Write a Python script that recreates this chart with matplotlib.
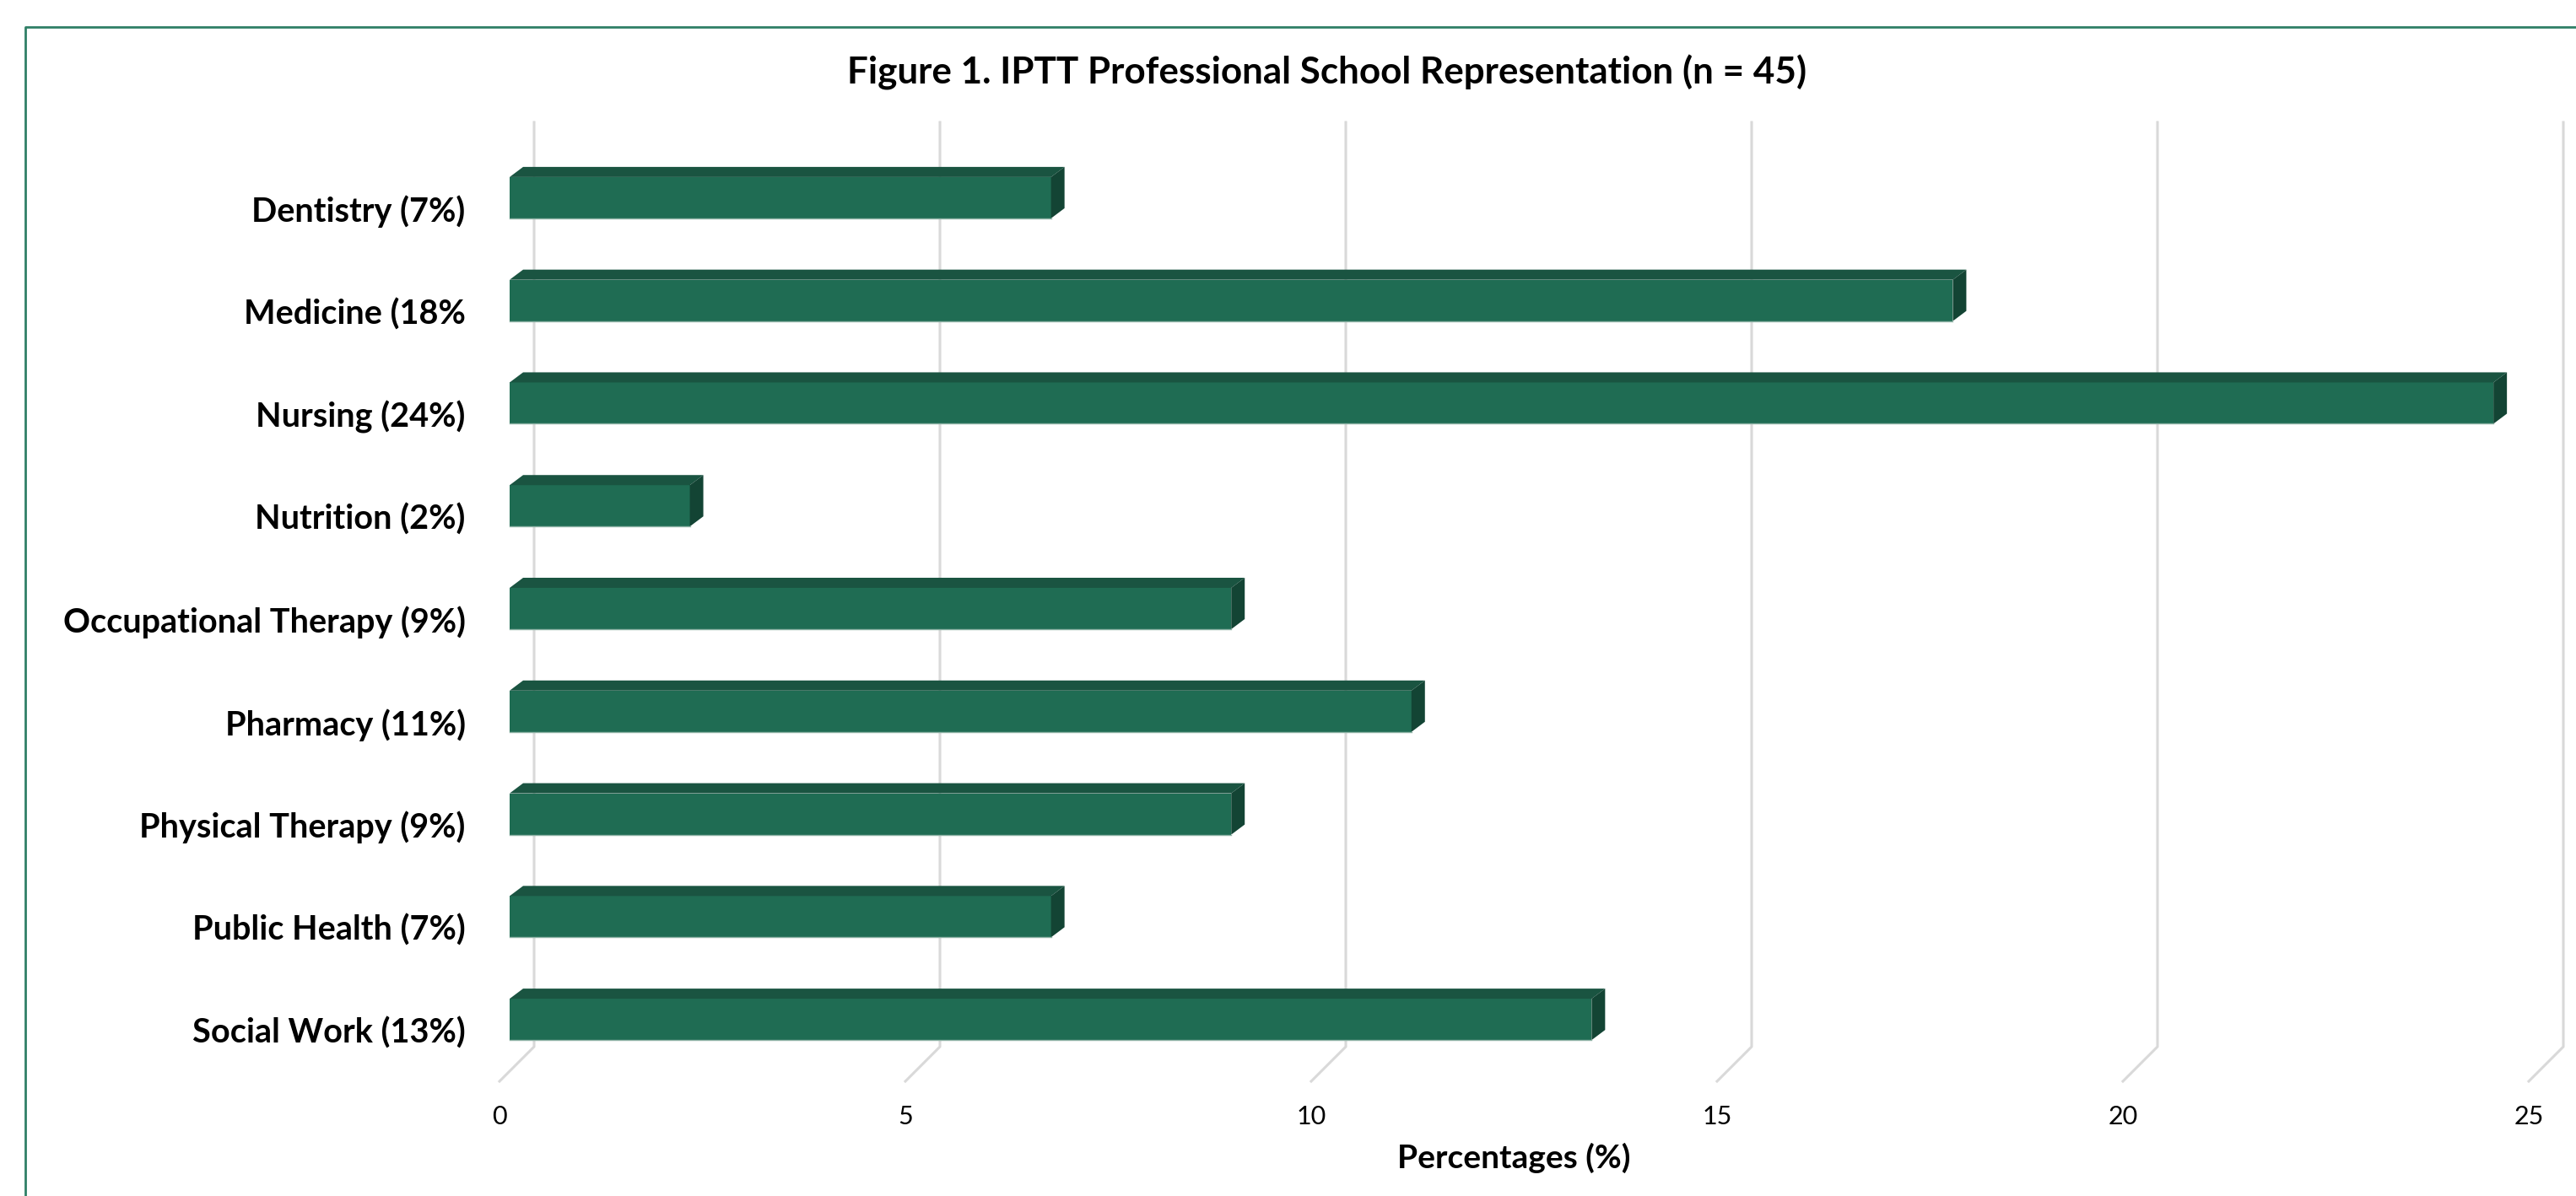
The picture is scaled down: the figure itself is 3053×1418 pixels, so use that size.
import matplotlib
matplotlib.use("Agg")
import matplotlib.pyplot as plt
from matplotlib.lines import Line2D
from matplotlib.patches import Polygon
from matplotlib.transforms import IdentityTransform

# data
schools = [
    "Dentistry (7%)",
    "Medicine (18%",
    "Nursing (24%)",
    "Nutrition (2%)",
    "Occupational Therapy (9%)",
    "Pharmacy (11%)",
    "Physical Therapy (9%)",
    "Public Health (7%)",
    "Social Work (13%)",
]
percentages = [6.67, 17.78, 24.44, 2.22, 8.89, 11.11, 8.89, 6.67, 13.33]
x_ticks = [0, 5, 10, 15, 20, 25]

W, H = 3053, 1418
FRONT = "#1f6c53"
TOP = "#1a5441"
SIDE = "#134434"
GRID = "#d9d9d9"
DEPTH = 41          # floor depth in px (back wall offset)
BAR_OFF = 12        # bar front face offset from front plane
BAR_DX, BAR_DY = 16, 12
BAR_H = 49

plt.rcParams["font.family"] = ["Lato", "DejaVu Sans"]

fig = plt.figure(figsize=(W / 100, H / 100), dpi=100)
ax = fig.add_axes([592 / W, (H - 1282) / H, 2405 / W, 1096 / H])
ax.set_xlim(0, 25)
ax.set_ylim(len(schools) - 0.5, -0.5)
for s in ax.spines.values():
    s.set_visible(False)
ax.set_xticks(x_ticks)
ax.set_xticklabels([str(t) for t in x_ticks], fontsize=22)
ax.set_yticks(range(len(schools)))
ax.set_yticklabels(schools, fontsize=28.5, fontweight="bold")
ax.tick_params(axis="x", length=0, pad=20)
ax.tick_params(axis="y", length=0, pad=29)
ax.set_xlabel("Percentages (%)", fontsize=28, fontweight="bold", labelpad=12)

ident = IdentityTransform()


def to_px(x, y):
    return ax.transData.transform((x, y))


# back wall gridlines with floor diagonals
for t in x_ticks:
    fbx, fby = to_px(t, len(schools) - 0.5)
    _, fty = to_px(t, -0.5)
    xs = [fbx + DEPTH, fbx + DEPTH, fbx]
    ys = [fty + DEPTH, fby + DEPTH, fby]
    ax.add_line(Line2D(xs, ys, transform=ident, color=GRID, lw=2.2,
                       clip_on=False, zorder=1))

# 3D bars
for i, v in enumerate(percentages):
    x0, yc = to_px(0, i)
    x1, _ = to_px(v, i)
    x0 += BAR_OFF
    x1 += BAR_OFF
    yc += BAR_OFF + 0.5
    yb, yt = yc - BAR_H / 2, yc + BAR_H / 2
    front = [(x0, yb), (x1, yb), (x1, yt), (x0, yt)]
    top = [(x0, yt), (x1, yt), (x1 + BAR_DX, yt + BAR_DY), (x0 + BAR_DX, yt + BAR_DY)]
    side = [(x1, yb), (x1 + BAR_DX, yb + BAR_DY), (x1 + BAR_DX, yt + BAR_DY), (x1, yt)]
    for pts, col in ((front, FRONT), (top, TOP), (side, SIDE)):
        ax.add_patch(Polygon(pts, closed=True, transform=ident, facecolor=col,
                             edgecolor="none", clip_on=False, zorder=3))
    ax.add_line(Line2D([x0, x1], [yb, yb], transform=ident, color="#8fb3a6",
                       lw=1.0, clip_on=False, zorder=4))

fig.text(1573 / W, 1 - 86 / H, "Figure 1. IPTT Professional School Representation (n = 45)",
         ha="center", va="center", fontsize=31.7, fontweight="bold")

# outer chart border (top and left visible)
fig.add_artist(Line2D([30 / W, 30 / W, 1.01], [-0.01, 1 - 32 / H, 1 - 32 / H],
                      transform=fig.transFigure, color="#2f7f66", lw=2.0))

fig.savefig("out.png", dpi=100, facecolor="white")
